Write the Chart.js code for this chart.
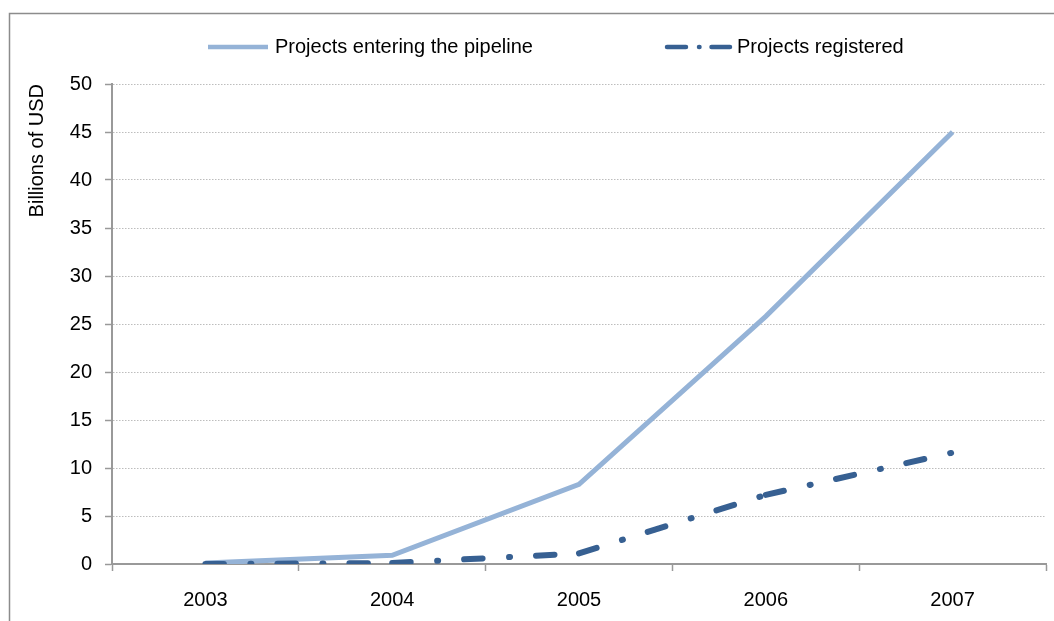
<!DOCTYPE html>
<html>
<head>
<meta charset="utf-8">
<script src="https://cdn.jsdelivr.net/npm/chart.js@4/dist/chart.umd.min.js"></script>
<style>
  html, body { margin: 0; padding: 0; background: #fff; }
  #wrap { width: 1054px; height: 621px; position: relative; }
</style>
</head>
<body>
<div id="wrap"><canvas id="chart" width="1054" height="621"></canvas></div>
<script>
// data
const years = ["2003", "2004", "2005", "2006", "2007"];
const pipeline = [0.1, 0.9, 8.3, 25.8, 45.0];
const registered = [0.0, 0.1, 1.1, 7.2, 11.6];
const yTicks = [0, 5, 10, 15, 20, 25, 30, 35, 40, 45, 50];

const FONT = "'Liberation Sans', Arial, sans-serif";
const LIGHT = "#95b3d7";
const DARK = "#376092";
const DASHDOT = [18.5, 26.5, 1, 26];

/* ===== frame + legend drawn by hand ===== */
const extras = {
  id: "extras",
  beforeDraw(chart) {
    const ctx = chart.ctx;
    ctx.save();
    ctx.strokeStyle = "#8c8c8c";
    ctx.lineWidth = 1.5;
    ctx.strokeRect(9.5, 13.5, 1200, 800);
    ctx.restore();
  },
  afterDraw(chart) {
    const ctx = chart.ctx;
    const items = [
      { x: 208, w: 60, color: LIGHT, dash: [], cap: "butt", text: "Projects entering the pipeline" },
      { x: 667, w: 63, color: DARK, dash: [19, 13, 0.5, 12], cap: "round", text: "Projects registered" },
    ];
    ctx.save();
    ctx.font = "20px " + FONT;
    ctx.textBaseline = "middle";
    ctx.fillStyle = "#000";
    items.forEach(it => {
      ctx.strokeStyle = it.color;
      ctx.lineWidth = 4.5;
      ctx.lineCap = it.cap;
      ctx.setLineDash(it.dash);
      ctx.beginPath();
      ctx.moveTo(it.x, 47);
      ctx.lineTo(it.x + it.w, 47);
      ctx.stroke();
      ctx.setLineDash([]);
      ctx.fillText(it.text, it.x + it.w + 7, 47);
    });
    ctx.restore();
  },
};

new Chart(document.getElementById("chart"), {
  type: "line",
  data: {
    labels: years,
    datasets: [
      {
        label: "Projects entering the pipeline",
        data: pipeline,
        borderColor: LIGHT,
        borderWidth: 5,
        pointRadius: 0,
        tension: 0,
        order: 1,
      },
      {
        label: "Projects registered",
        data: registered,
        borderColor: DARK,
        borderWidth: 6,
        borderDash: DASHDOT,
        borderCapStyle: "round",
        pointRadius: 0,
        tension: 0,
        order: 0,
        // restart the dash pattern on every segment, like the original
        segment: {
          borderDashOffset: ctx => (ctx.p0DataIndex % 2 ? 0.001 : 0),
        },
      },
    ],
  },
  options: {
    responsive: false,
    animation: false,
    layout: { padding: { left: 0, right: 8, top: 84, bottom: 0 } },
    plugins: {
      legend: { display: false },
      tooltip: { enabled: false },
    },
    scales: {
      x: {
        offset: true,
        grid: {
          offset: true,
          drawOnChartArea: false,
          drawTicks: true,
          tickLength: 7,
          tickColor: "#999",
          tickWidth: 1.5,
        },
        border: { color: "#999", width: 2 },
        ticks: { color: "#000", font: { family: FONT, size: 20 }, padding: 17 },
        afterFit(scale) { scale.height = 57; },
      },
      y: {
        min: 0,
        max: 50,
        afterBuildTicks(scale) { scale.ticks = yTicks.map(v => ({ value: v })); },
        grid: {
          color: "#bdbdbd",
          lineWidth: 1,
          tickColor: "#999",
          tickWidth: 1.5,
          tickLength: 7,
          tickBorderDash: [],
        },
        border: { color: "#999", width: 2, dash: [1.5, 1.5] },
        ticks: { color: "#000", font: { family: FONT, size: 20 }, padding: 13 },
        title: {
          display: true,
          text: "Billions of USD",
          align: "end",
          color: "#000",
          font: { family: FONT, size: 20 },
          padding: { top: 25, bottom: 0 },
        },
        afterFit(scale) { scale.width = 112; },
      },
    },
  },
  plugins: [extras],
});
</script>
</body>
</html>
